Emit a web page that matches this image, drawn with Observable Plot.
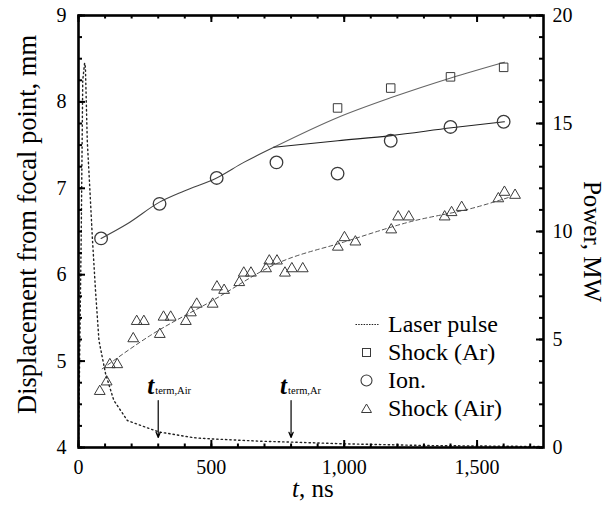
<!DOCTYPE html>
<html>
<head>
<meta charset="utf-8">
<script src="https://cdn.jsdelivr.net/npm/d3@7"></script>
<script src="https://cdn.jsdelivr.net/npm/@observablehq/plot@0.6"></script>
<style>
  html, body { margin: 0; padding: 0; background: #fff; }
  #wrap { position: relative; width: 608px; height: 506px; font-family: "Liberation Serif", "Times New Roman", serif; }
  #wrap svg, #wrap svg text { font-family: "Liberation Serif", "Times New Roman", serif !important; }
  #legend { position: absolute; left: 0; top: 0; pointer-events: none; }
</style>
</head>
<body>
<div id="wrap"></div>
<script>
// ---------- data ----------
// Shock front, argon (squares)
const arT = [975, 1175, 1400, 1600];
const arD = [7.93, 8.16, 8.29, 8.40];
// Ionization front (circles)
const ionT = [85, 305, 520, 745, 975, 1175, 1400, 1600];
const ionD = [6.42, 6.82, 7.12, 7.30, 7.17, 7.55, 7.71, 7.77];
// Shock front, air (triangles)
const airT = [80, 106, 118, 146, 206, 219, 246, 306, 320, 347, 404, 423, 445, 505, 521, 548, 605, 622, 649, 706, 718, 747, 777, 803, 844, 976, 1001, 1042, 1177, 1203, 1243, 1378, 1404, 1442, 1580, 1603, 1643];
const airD = [4.65, 4.76, 4.96, 4.96, 5.26, 5.46, 5.46, 5.31, 5.51, 5.51, 5.46, 5.56, 5.66, 5.66, 5.86, 5.82, 5.91, 6.02, 6.02, 6.07, 6.16, 6.16, 6.02, 6.07, 6.07, 6.32, 6.43, 6.38, 6.52, 6.67, 6.67, 6.67, 6.72, 6.78, 6.88, 6.955, 6.92];
// Fit curves
const fitCommonT = [85, 184, 305, 398, 520, 622, 735];
const fitCommonD = [6.42, 6.59, 6.84, 6.97, 7.12, 7.30, 7.475];
const fitArT = [735, 976, 1177, 1404, 1603];
const fitArD = [7.475, 7.82, 8.05, 8.28, 8.46];
const fitIonT = [735, 976, 1177, 1404, 1603];
const fitIonD = [7.475, 7.55, 7.61, 7.70, 7.77];
const fitAirT = [89, 272, 504, 747, 1001, 1245, 1495, 1625];
const fitAirD = [4.91, 5.30, 5.70, 6.13, 6.38, 6.61, 6.78, 6.90];
// Laser pulse power, MW (right axis)
const laserT = [0, 10, 16, 23, 26, 33, 43, 52, 64, 77, 102, 133, 184, 250, 303, 435, 498, 687, 800, 1001, 1316, 1693, 1750];
const laserP = [0, 9.6, 17.0, 17.8, 17.6, 14.2, 11.9, 9.74, 7.27, 4.95, 3.41, 2.18, 1.25, 0.95, 0.72, 0.45, 0.40, 0.29, 0.25, 0.17, 0.09, 0.05, 0.04];
// Termination-time annotations
const termT = [300, 800];
const termSub = ["term,Air", "term,Ar"];
const arrowTop = 4.544, arrowTip = 4.116, termLabelY = 4.625;
// Axes
const xDomain = [0, 1750];
const yDomain = [4, 9];
const pMax = 20;
const xMajor = [0, 500, 1000, 1500];
const xMinor = d3.range(0, 1701, 100);
const yMajor = [4, 5, 6, 7, 8, 9];
const yMinor = d3.range(4, 9.001, 0.25);
const pMajor = [0, 5, 10, 15, 20];
const pMinor = d3.range(0, 20.001, 1);

// ---------- build ----------
const pToY = p => yDomain[0] + p * (yDomain[1] - yDomain[0]) / pMax;
const pairs = (ts, vs) => ts.map((t, i) => ({t, v: vs[i]}));
const ar = pairs(arT, arD), ion = pairs(ionT, ionD), air = pairs(airT, airD);
const laser = laserT.map((t, i) => ({t, v: pToY(laserP[i])}));
const terms = termT.map((t, i) => ({t, sub: termSub[i]}));

const W = 608, H = 506, mL = 78, mR = 65, mT = 15, mB = 59;
const pw = W - mL - mR, ph = H - mT - mB;
const font = '"Liberation Serif", "Times New Roman", serif';
const sym = "#3a3a3a";

const chart = Plot.plot({
  width: W, height: H,
  marginLeft: mL, marginRight: mR, marginTop: mT, marginBottom: mB,
  style: {fontFamily: font, color: "#000", background: "#fff", overflow: "visible"},
  x: {domain: xDomain},
  y: {domain: yDomain},
  marks: [
    // laser pulse
    Plot.line(laser, {x: "t", y: "v", stroke: "#222", strokeWidth: 1.4, strokeDasharray: "1.4,3"}),
    // fits
    Plot.line(pairs(fitAirT, fitAirD), {x: "t", y: "v", curve: "monotone-x", stroke: "#555", strokeWidth: 1, strokeDasharray: "4,3"}),
    Plot.line(pairs(fitCommonT, fitCommonD), {x: "t", y: "v", curve: "monotone-x", stroke: "#444", strokeWidth: 1.1}),
    Plot.line(pairs(fitArT, fitArD), {x: "t", y: "v", curve: "monotone-x", stroke: "#666", strokeWidth: 1.1}),
    Plot.line(pairs(fitIonT, fitIonD), {x: "t", y: "v", curve: "monotone-x", stroke: "#222", strokeWidth: 1.1}),
    // data points
    Plot.dot(air, {x: "t", y: "v", symbol: "triangle", r: 4, stroke: sym, fill: "none", strokeWidth: 1}),
    Plot.dot(ion, {x: "t", y: "v", symbol: "circle", r: 6.3, stroke: sym, fill: "none", strokeWidth: 1.3}),
    Plot.dot(ar, {x: "t", y: "v", symbol: "square", r: 4.8, stroke: sym, fill: "none", strokeWidth: 1}),
    // annotations
    Plot.arrow(terms, {x1: "t", x2: "t", y1: () => arrowTop, y2: () => arrowTip, stroke: "#000", strokeWidth: 1.2, headLength: 7, headAngle: 45}),
    Plot.text(terms, {x: "t", y: () => termLabelY, text: () => "t", fontFamily: font, fontSize: 25, fontStyle: "italic", fontWeight: "bold", textAnchor: "end", lineAnchor: "bottom", dx: -4, fill: "#000"}),
    Plot.text(terms, {x: "t", y: () => termLabelY, text: "sub", fontFamily: font, fontSize: 10.5, textAnchor: "start", lineAnchor: "bottom", dx: -3, fill: "#000"}),
    // frame and inward ticks
    Plot.frame({stroke: "#000", strokeWidth: 2.6}),
    Plot.ruleX(xMinor, {insetTop: ph - 3.5, stroke: "#000", strokeWidth: 2}),
    Plot.ruleX(xMajor, {insetTop: ph - 7, stroke: "#000", strokeWidth: 2}),
    Plot.ruleX(xMinor, {insetBottom: ph - 3.5, stroke: "#000", strokeWidth: 2}),
    Plot.ruleX(xMajor, {insetBottom: ph - 7, stroke: "#000", strokeWidth: 2}),
    Plot.ruleY(yMinor, {insetRight: pw - 4, stroke: "#000", strokeWidth: 2}),
    Plot.ruleY(yMajor, {insetRight: pw - 7, stroke: "#000", strokeWidth: 2}),
    Plot.ruleY(pMinor.map(pToY), {insetLeft: pw - 4, stroke: "#000", strokeWidth: 2}),
    Plot.ruleY(pMajor.map(pToY), {insetLeft: pw - 7, stroke: "#000", strokeWidth: 2}),
    // tick labels
    Plot.axisX(xMajor, {tickSize: 0, tickPadding: 12, fontSize: 20, fontFamily: font, tickFormat: d3.format(","), label: null}),
    Plot.axisY(yMajor, {anchor: "left", tickSize: 0, tickPadding: 12, fontSize: 20, fontFamily: font, tickFormat: d => d.toFixed(0), label: null}),
    Plot.axisY(pMajor.map(pToY), {anchor: "right", tickSize: 0, tickPadding: 9, fontSize: 20, fontFamily: font, label: null,
      tickFormat: d => String(Math.round((d - yDomain[0]) * pMax / (yDomain[1] - yDomain[0])))}),
    // axis titles
    Plot.text(["Displacement from focal point, mm"], {frameAnchor: "left", textAnchor: "middle", rotate: -90, dx: -51, dy: -7, fontSize: 26.5, fontFamily: font, fill: "#000"}),
    Plot.text(["Power, MW"], {frameAnchor: "right", textAnchor: "middle", rotate: 90, dx: 48, dy: 10, fontSize: 25, fontFamily: font, fill: "#000"}),
    Plot.text(["t"], {frameAnchor: "bottom", dx: -12, dy: 49, lineAnchor: "bottom", textAnchor: "end", fontStyle: "italic", fontSize: 25, fontFamily: font, fill: "#000"}),
    Plot.text([", ns"], {frameAnchor: "bottom", dx: -12, dy: 49, lineAnchor: "bottom", textAnchor: "start", fontSize: 25, fontFamily: font, fill: "#000"})
  ]
});
document.getElementById("wrap").appendChild(chart);

// ---------- legend ----------
const legendItems = ["Laser pulse", "Shock (Ar)", "Ion.", "Shock (Air)"];
const ns = "http://www.w3.org/2000/svg";
const lg = document.createElementNS(ns, "svg");
lg.setAttribute("id", "legend");
lg.setAttribute("width", W);
lg.setAttribute("height", H);
lg.style.fontFamily = font;
const lx = 366.5, tx = 388, base0 = 332, step = 28;
function el(tag, attrs, text) {
  const e = document.createElementNS(ns, tag);
  for (const k in attrs) e.setAttribute(k, attrs[k]);
  if (text) { e.textContent = text; e.style.fontFamily = font; }
  lg.appendChild(e);
  return e;
}
legendItems.forEach((label, i) => {
  const b = base0 + i * step, cy = b - 7.5;
  el("text", {x: tx, y: b, "font-size": 24, fill: "#000"}, label);
  if (i === 0) el("line", {x1: lx - 11, x2: lx + 12, y1: cy, y2: cy, stroke: "#222", "stroke-width": 1.1, "stroke-dasharray": "1.5,1.2"});
  if (i === 1) el("rect", {x: lx - 4, y: cy - 4, width: 8, height: 8, fill: "none", stroke: sym, "stroke-width": 1});
  if (i === 2) el("circle", {cx: lx, cy: cy, r: 5.5, fill: "none", stroke: sym, "stroke-width": 1.1});
  if (i === 3) el("polygon", {points: `${lx},${cy - 4.5} ${lx + 5},${cy + 4} ${lx - 5},${cy + 4}`, fill: "none", stroke: sym, "stroke-width": 1});
});
document.getElementById("wrap").appendChild(lg);
</script>
</body>
</html>
